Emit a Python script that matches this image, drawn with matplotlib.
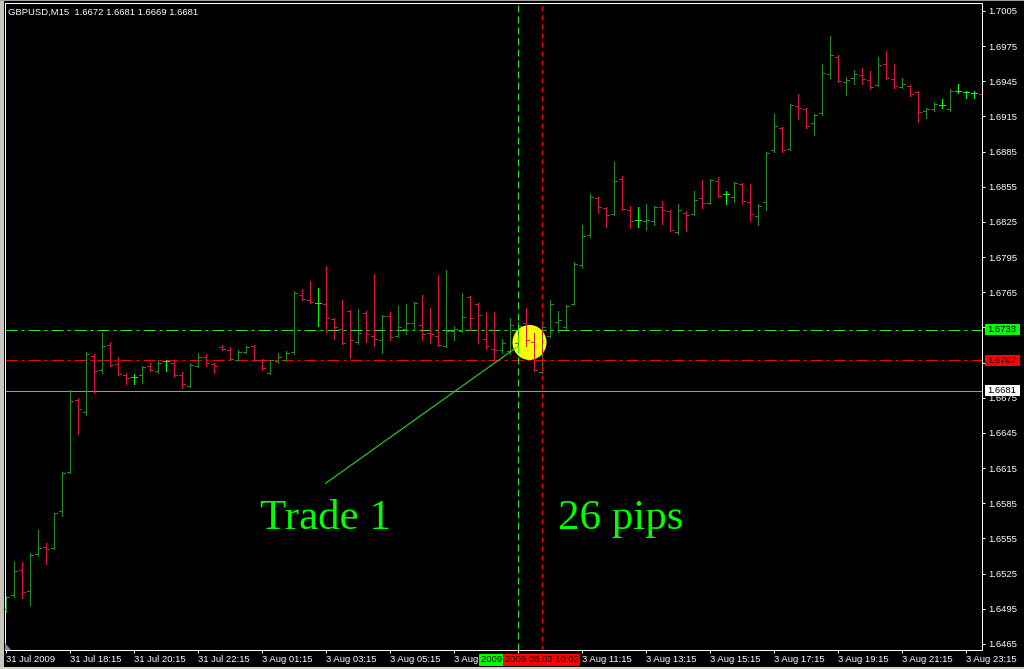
import matplotlib
matplotlib.use("Agg")
import matplotlib.pyplot as plt
import matplotlib.transforms as mtransforms
from matplotlib.patches import Ellipse, Rectangle, Polygon

plt.rcParams['font.family'] = ['Liberation Sans', 'DejaVu Sans']

# ---- data (GBPUSD M15, one bar every 15 min) ----
title_text = "GBPUSD,M15  1.6672 1.6681 1.6669 1.6681"

opens = [1.6495, 1.6507, 1.6528, 1.6510, 1.6542, 1.6548, 1.6547, 1.6578, 1.6612, 1.6673,
         1.6663, 1.6711, 1.6699, 1.6720, 1.6704, 1.6694, 1.6693, 1.6694, 1.6702, 1.6698,
         1.6706, 1.6705, 1.6694, 1.6685, 1.6702, 1.6710, 1.6704, 1.6718, 1.6716, 1.6707,
         1.6714, 1.6719, 1.6707, 1.6696, 1.6706, 1.6707, 1.6714, 1.6763, 1.6758, 1.6756,
         1.6755, 1.6742, 1.6734, 1.6749, 1.6723, 1.6747, 1.6728, 1.6724, 1.6745, 1.6728,
         1.6734, 1.6739, 1.6737, 1.6730, 1.6728, 1.6719, 1.6732, 1.6732, 1.6761, 1.6755,
         1.6725, 1.6717, 1.6716, 1.6715, 1.6722, 1.6739, 1.6723, 1.6697, 1.6728, 1.6740,
         1.6735, 1.6755, 1.6788, 1.6814, 1.6845, 1.6837, 1.6832, 1.6862, 1.6835, 1.6827,
         1.6826, 1.6826, 1.6838, 1.6834, 1.6816, 1.6833, 1.6832, 1.6845, 1.6841, 1.6860,
         1.6849, 1.6846, 1.6857, 1.6842, 1.6830, 1.6842, 1.6886, 1.6905, 1.6887, 1.6924,
         1.6921, 1.6909, 1.6918, 1.6951, 1.6966, 1.6944, 1.6948, 1.6950, 1.6946, 1.6942,
         1.6960, 1.6947, 1.6940, 1.6941, 1.6936, 1.6920, 1.6921, 1.6925, 1.6921, 1.6937,
         1.6936, 1.6935, 1.6934]
highs = [1.6506, 1.6535, 1.6535, 1.6543, 1.6562, 1.6551, 1.6577, 1.6612, 1.6682, 1.6675,
         1.6714, 1.6712, 1.6730, 1.6723, 1.6710, 1.6696, 1.6695, 1.6702, 1.6705, 1.6707,
         1.6707, 1.6707, 1.6697, 1.6705, 1.6713, 1.6712, 1.6705, 1.6720, 1.6718, 1.6716,
         1.6719, 1.6720, 1.6708, 1.6707, 1.6713, 1.6715, 1.6766, 1.6768, 1.6775, 1.6769,
         1.6787, 1.6743, 1.6758, 1.6750, 1.6751, 1.6749, 1.6781, 1.6746, 1.6748, 1.6753,
         1.6755, 1.6757, 1.6763, 1.6752, 1.6780, 1.6784, 1.6736, 1.6764, 1.6762, 1.6756,
         1.6748, 1.6748, 1.6725, 1.6743, 1.6740, 1.6752, 1.6730, 1.6740, 1.6758, 1.6749,
         1.6754, 1.6791, 1.6822, 1.6849, 1.6846, 1.6838, 1.6876, 1.6864, 1.6839, 1.6838,
         1.6840, 1.6839, 1.6843, 1.6835, 1.6840, 1.6834, 1.6851, 1.6861, 1.6862, 1.6863,
         1.6851, 1.6859, 1.6858, 1.6857, 1.6840, 1.6885, 1.6917, 1.6906, 1.6926, 1.6934,
         1.6922, 1.6917, 1.6960, 1.6984, 1.6967, 1.6949, 1.6955, 1.6956, 1.6954, 1.6966,
         1.6971, 1.6960, 1.6948, 1.6942, 1.6937, 1.6922, 1.6927, 1.6930, 1.6938, 1.6943,
         1.6937, 1.6937, 1.6935]
lows = [1.6492, 1.6505, 1.6504, 1.6498, 1.6540, 1.6533, 1.6546, 1.6574, 1.6611, 1.6644,
        1.6660, 1.6679, 1.6696, 1.6702, 1.6694, 1.6687, 1.6687, 1.6688, 1.6698, 1.6696,
        1.6698, 1.6693, 1.6683, 1.6684, 1.6701, 1.6702, 1.6696, 1.6716, 1.6707, 1.6706,
        1.6713, 1.6706, 1.6699, 1.6695, 1.6705, 1.6706, 1.6712, 1.6758, 1.6756, 1.6736,
        1.6731, 1.6725, 1.6721, 1.6709, 1.6721, 1.6723, 1.6719, 1.6713, 1.6724, 1.6727,
        1.6729, 1.6733, 1.6724, 1.6722, 1.6719, 1.6718, 1.6724, 1.6731, 1.6733, 1.6722,
        1.6717, 1.6707, 1.6713, 1.6712, 1.6720, 1.6719, 1.6698, 1.6696, 1.6727, 1.6731,
        1.6734, 1.6754, 1.6786, 1.6812, 1.6833, 1.6821, 1.6831, 1.6835, 1.6820, 1.6821,
        1.6818, 1.6822, 1.6823, 1.6817, 1.6815, 1.6817, 1.6831, 1.6837, 1.6840, 1.6846,
        1.6840, 1.6842, 1.6840, 1.6826, 1.6822, 1.6835, 1.6885, 1.6885, 1.6886, 1.6913,
        1.6905, 1.6899, 1.6916, 1.6948, 1.6944, 1.6933, 1.6943, 1.6943, 1.6938, 1.6941,
        1.6947, 1.6939, 1.6939, 1.6932, 1.6910, 1.6914, 1.6920, 1.6922, 1.6920, 1.6935,
        1.6931, 1.6931, 1.6922]
closes = [1.6505, 1.6527, 1.6509, 1.6541, 1.6547, 1.6546, 1.6577, 1.6611, 1.6672, 1.6665,
          1.6712, 1.6698, 1.6719, 1.6703, 1.6695, 1.6692, 1.6693, 1.6701, 1.6699, 1.6705,
          1.6706, 1.6694, 1.6687, 1.6703, 1.6710, 1.6705, 1.6702, 1.6717, 1.6708, 1.6714,
          1.6718, 1.6707, 1.6700, 1.6707, 1.6710, 1.6713, 1.6764, 1.6759, 1.6757, 1.6756,
          1.6743, 1.6735, 1.6722, 1.6724, 1.6730, 1.6729, 1.6725, 1.6745, 1.6727, 1.6735,
          1.6739, 1.6756, 1.6729, 1.6729, 1.6720, 1.6732, 1.6734, 1.6744, 1.6743, 1.6746,
          1.6719, 1.6716, 1.6722, 1.6737, 1.6736, 1.6724, 1.6699, 1.6735, 1.6755, 1.6741,
          1.6753, 1.6789, 1.6813, 1.6846, 1.6838, 1.6831, 1.6860, 1.6836, 1.6826, 1.6827,
          1.6827, 1.6838, 1.6835, 1.6818, 1.6835, 1.6831, 1.6844, 1.6841, 1.6861, 1.6847,
          1.6849, 1.6858, 1.6843, 1.6832, 1.6839, 1.6884, 1.6907, 1.6886, 1.6925, 1.6922,
          1.6907, 1.6916, 1.6952, 1.6967, 1.6945, 1.6946, 1.6951, 1.6947, 1.6940, 1.6959,
          1.6948, 1.6941, 1.6943, 1.6934, 1.6919, 1.6921, 1.6926, 1.6925, 1.6937, 1.6937,
          1.6936, 1.6935, 1.6923]

# the 09:15 label sits under the crosshair time boxes, so it is not shown
time_labels = ["31 Jul 2009", "31 Jul 18:15", "31 Jul 20:15", "31 Jul 22:15",
               "3 Aug 01:15", "3 Aug 03:15", "3 Aug 05:15", "3 Aug 07:15",
               "", "3 Aug 11:15", "3 Aug 13:15", "3 Aug 15:15",
               "3 Aug 17:15", "3 Aug 19:15", "3 Aug 21:15", "3 Aug 23:15"]
bars_per_label = 8

price_ticks = [1.7005, 1.6975, 1.6945, 1.6915, 1.6885, 1.6855, 1.6825, 1.6795, 1.6765,
               1.6735, 1.6705, 1.6675, 1.6645, 1.6615, 1.6585, 1.6555, 1.6525, 1.6495, 1.6465]
# 1.6735 and 1.6705 are hidden behind the level price boxes
hidden_price_ticks = [1.6735, 1.6705]

level_green = 1.6733
level_red = 1.6707
bid_price = 1.6681

cross_bar_1, cross_label_1 = 64, "2009.08.03 09:15"
cross_bar_2, cross_label_2 = 67, "2009.08.03 10:02"

trade_line_x = [40, 64]
trade_line_y = [1.6602, 1.67186]

# ---- figure set up in screen pixels ----
W, H = 1024, 669
PX = 0.72  # one pixel in points at dpi 100
fig = plt.figure(figsize=(W / 100, H / 100), dpi=100, facecolor='black')
ax = fig.add_axes([4.5 / W, 19 / H, 977.5 / W, 647 / H])
ax.set_facecolor('black')

UP = '#228b22'
DOWN = '#dc143c'
FLAT = '#00ff00'
LIME = '#22ee22'

n = len(opens)
xs = list(range(n))
colors = []
for o, c in zip(opens, closes):
    if o == c:
        colors.append(FLAT)
    elif c > o:
        colors.append(UP)
    else:
        colors.append(DOWN)

tick = 0.375
ax.vlines(xs, lows, highs, colors=colors, lw=PX, zorder=5, antialiased=False)
ax.hlines(opens, [x - tick for x in xs], xs, colors=colors, lw=PX, zorder=5, antialiased=False)
ax.hlines(closes, xs, [x + tick for x in xs], colors=colors, lw=PX, zorder=5, antialiased=False)

# level lines
ax.axhline(level_green, color=LIME, lw=PX, ls=(0, (12, 4, 3, 4)), zorder=2)
ax.axhline(level_red, color='#ff0000', lw=PX, ls=(0, (12, 4, 3, 4)), zorder=2)
ax.axhline(bid_price, color='#8c9bab', lw=PX, zorder=2)

# highlight of the entry
ax.add_patch(Ellipse((65.5, 1.67222), width=4.25, height=0.00299,
                     facecolor='#ffff00', edgecolor='none', zorder=3))

# crosshair verticals
ax.axvline(cross_bar_1, color=LIME, lw=PX, ls=(0, (7, 4)), zorder=6)
ax.axvline(cross_bar_2, color='#ff0000', lw=PX, ls=(0, (5, 4)), zorder=6)

# trade annotation
ax.plot(trade_line_x, trade_line_y, color=LIME, lw=PX, zorder=6)
ax.text(31.8, 1.65631, "Trade 1", family='Liberation Serif', size=31,
        color='#00ff00', ha='left', va='baseline', zorder=7)
ax.text(69.06, 1.65631, "26 pips", family='Liberation Serif', size=31,
        color='#00ff00', ha='left', va='baseline', zorder=7)

# axes styling
for sp in ax.spines.values():
    sp.set_color('white')
    sp.set_linewidth(PX)
ax.yaxis.tick_right()
ax.set_yticks(price_ticks)
ax.set_yticklabels(["" if p in hidden_price_ticks else f"{p:.4f}" for p in price_ticks])
ax.set_xticks(list(range(0, bars_per_label * len(time_labels), bars_per_label)))
ax.set_xticklabels(time_labels, ha='left')
ax.tick_params(axis='y', colors='white', length=3 * PX, width=PX, pad=2.7, labelsize=6.8)
ax.tick_params(axis='x', colors='white', length=3 * PX, width=PX, pad=1.6, labelsize=6.8)

# price labels on the right axis
right_tr = mtransforms.blended_transform_factory(fig.transFigure, ax.transData)
box_h = 10.7 * 0.0000853
for price, fc in [(level_green, '#00ff00'), (level_red, '#ff0000'), (bid_price, '#ffffff')]:
    ax.add_patch(Rectangle((985 / W, price - box_h / 2), 34.5 / W, box_h, transform=right_tr,
                           facecolor=fc, edgecolor='none', clip_on=False, zorder=10))
    ax.text(1002 / W, price, f"{price:.4f}", transform=right_tr, ha='center', va='center',
            color='black', size=6.8, clip_on=False, zorder=11)

# time labels of the crosshair on the bottom axis (the second box covers most of the first)
bottom_tr = mtransforms.blended_transform_factory(ax.transData, fig.transFigure)
box_w = 9.6
ax.add_patch(Rectangle((cross_bar_1 - box_w / 2, 3 / H), box_w, 12 / H, transform=bottom_tr,
                       facecolor='#00ff00', edgecolor='none', clip_on=False, zorder=10))
t1 = ax.text(cross_bar_1, 9.5 / H, cross_label_1, transform=bottom_tr, ha='center', va='center',
             color='black', size=6.8, zorder=11)
visible = mtransforms.Bbox([[cross_bar_1 - box_w / 2, 3 / H], [cross_bar_2 - box_w / 2, 15 / H]])
t1.set_clip_box(mtransforms.TransformedBbox(visible, bottom_tr))
t1.set_clip_on(True)
ax.add_patch(Rectangle((cross_bar_2 - box_w / 2, 3 / H), box_w, 12 / H, transform=bottom_tr,
                       facecolor='#ff0000', edgecolor='none', clip_on=False, zorder=12))
ax.text(cross_bar_2, 9.5 / H, cross_label_2, transform=bottom_tr, ha='center', va='center',
        color='black', size=6.8, clip_on=False, zorder=13)

ax.set_xlim(-0.125, 122.06)
ax.set_ylim(1.645985, 1.701174)

# window chrome
fig.patches.append(Rectangle((0, 0), 4 / W, 1, transform=fig.transFigure,
                             facecolor='#c8c4bc', edgecolor='none'))
fig.patches.append(Rectangle((0, 0), 1, 2 / H, transform=fig.transFigure,
                             facecolor='#d4d0c8', edgecolor='none'))
fig.patches.append(Rectangle((0, 1 - 1 / H), 1, 1 / H, transform=fig.transFigure,
                             facecolor='#a0a0a0', edgecolor='none'))
fig.patches.append(Polygon([(5 / W, 1 - 643 / H), (5 / W, 1 - 650 / H), (11 / W, 1 - 650 / H)],
                           closed=True, transform=fig.transFigure,
                           facecolor='#7890a8', edgecolor='none'))

fig.text(8 / W, 1 - 12 / H, title_text, color='white', size=6.8, ha='left', va='center')

fig.savefig('out.png', dpi=100, facecolor='black')
